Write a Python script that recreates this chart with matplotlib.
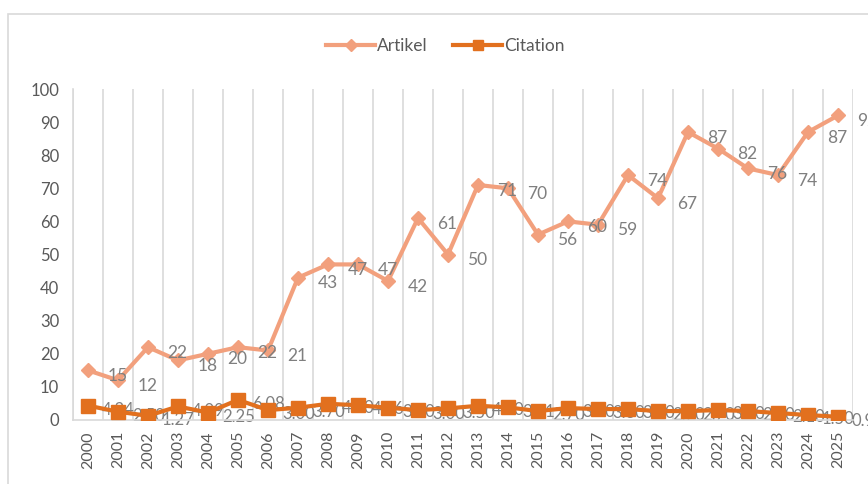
import matplotlib
matplotlib.use("Agg")
from matplotlib import pyplot as plt
from matplotlib.patches import Rectangle

plt.rcParams['font.family'] = ['Lato', 'DejaVu Sans']

years = [str(y) for y in range(2000, 2026)]
artikel = [15, 12, 22, 18, 20, 22, 21, 43, 47, 47, 42, 61, 50,
           71, 70, 56, 60, 59, 74, 67, 87, 82, 76, 74, 87, 92]
citation = [4.34, 2.5, 1.27, 4.09, 2.25, 6.08, 3.0, 3.7, 4.9, 4.46, 3.7, 3.0, 3.5,
            4.3, 3.81, 2.7, 3.6, 3.3, 3.3, 2.7, 2.7, 3.0, 2.7, 2.1, 1.5, 0.97]

col_art = '#F2A07D'
col_cit = '#E2701E'
grey = '#7F7F7F'

fig = plt.figure(figsize=(8.68, 4.84), dpi=100)
ax = fig.add_axes([73 / 868, 1 - 420 / 484, 780 / 868, 331 / 484])

# bordo del grafico
fig.patches.append(Rectangle((8 / 868, -0.1), 1.2, 1 - 14 / 484 + 0.1,
                             transform=fig.transFigure, fill=False,
                             edgecolor='#D9D9D9', linewidth=1.2))

x = list(range(len(years)))
ax.plot(x, artikel, color=col_art, linewidth=3, marker='D', markersize=7.5,
        label='Artikel', zorder=3)
ax.plot(x, citation, color=col_cit, linewidth=3, marker='s', markersize=10.5,
        label='Citation', zorder=4)

# etichette dei dati
for i, v in enumerate(artikel):
    ax.annotate(str(v), (i, v), xytext=(14, -4), textcoords='offset points',
                ha='left', va='center', fontsize=12.5, color=grey, zorder=5)
for i, v in enumerate(citation):
    ax.annotate(f'{v:.2f}', (i, v), xytext=(10, -3), textcoords='offset points',
                ha='left', va='center', fontsize=12, color=grey, zorder=2)

ax.set_xlim(-0.5, len(years) - 0.5)
ax.set_ylim(0, 100)
ax.set_yticks(range(0, 101, 10))
ax.set_xticks(x)
ax.set_xticklabels(years, rotation=90)
ax.tick_params(axis='both', length=0, labelsize=12, colors='#595959')
ax.tick_params(axis='x', pad=8, labelsize=11.5)
ax.tick_params(axis='y', pad=10)

for i in range(len(years) + 1):
    ax.axvline(i - 0.5, color='#D9D9D9', linewidth=1.2, zorder=0)

for s in ['top', 'right']:
    ax.spines[s].set_visible(False)
for s in ['left', 'bottom']:
    ax.spines[s].set_color('#D9D9D9')
    ax.spines[s].set_linewidth(1.2)

fig.legend(loc='center', bbox_to_anchor=(0.513, 0.905), ncol=2, frameon=False,
           fontsize=12.5, handlelength=2.8, columnspacing=1.5, handletextpad=0.1,
           markerscale=0.75, labelcolor='#595959')

plt.savefig('out.png', dpi=100)
